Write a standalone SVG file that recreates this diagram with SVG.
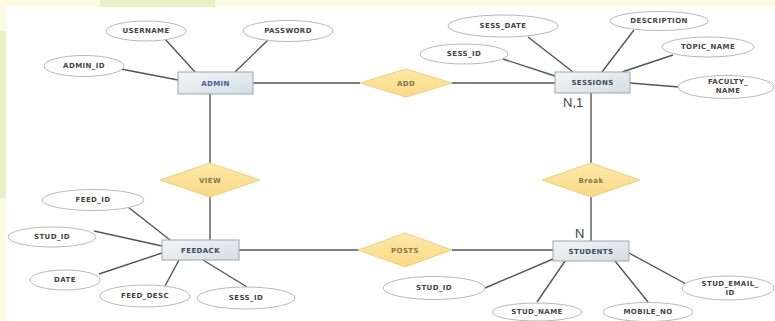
<svg xmlns="http://www.w3.org/2000/svg" width="775" height="321" viewBox="0 0 775 321">
<defs>
<linearGradient id="ent" x1="0" y1="0" x2="1" y2="1">
<stop offset="0" stop-color="#f3f6f7"/><stop offset="1" stop-color="#d5dde1"/>
</linearGradient>
<linearGradient id="rel" x1="0" y1="0" x2="0" y2="1">
<stop offset="0" stop-color="#fde9a8"/><stop offset="1" stop-color="#f9d885"/>
</linearGradient>
<style>
.ent{fill:url(#ent);stroke:#9aa8b0;stroke-width:1}
.rel{fill:url(#rel);stroke:#ecd080;stroke-width:1}
.att{fill:#ffffff;stroke:#b8b8b8;stroke-width:1}
.ln{stroke:#555;stroke-width:1.4;fill:none}
text{font-family:"DejaVu Sans","Liberation Sans",sans-serif;font-weight:bold;font-size:7px;text-anchor:middle;dominant-baseline:central;fill:#444;letter-spacing:0.4px}
.rt{fill:#8a7448}
.et{fill:#3c4a5c}
.card{font-family:"Liberation Sans",sans-serif;font-weight:normal;font-size:13px;fill:#444;text-anchor:start;dominant-baseline:alphabetic;letter-spacing:0}
</style>
</defs>
<rect x="0" y="0" width="775" height="321" fill="#fdfbe3"/>
<rect x="100" y="0" width="115" height="7" fill="#e9f0c6"/>
<rect x="0" y="31" width="6" height="167" fill="#e9f0c6"/>
<rect x="6" y="7" width="769" height="314" fill="#ffffff"/>

<g id="connectors">
<line class="ln" x1="165" y1="39" x2="195" y2="72"/>
<line class="ln" x1="268" y1="40" x2="235" y2="72"/>
<line class="ln" x1="121" y1="69" x2="178" y2="80"/>
<line class="ln" x1="253" y1="83" x2="360" y2="83"/>
<line class="ln" x1="210" y1="94" x2="210" y2="163"/>
<line class="ln" x1="210" y1="197" x2="210" y2="240"/>
<line class="ln" x1="239" y1="250" x2="358" y2="250"/>
<line class="ln" x1="452" y1="250" x2="553" y2="250"/>
<line class="ln" x1="591" y1="241" x2="591" y2="197"/>
<line class="ln" x1="591" y1="163" x2="591" y2="93"/>
<line class="ln" x1="452" y1="83" x2="555" y2="83"/>
<line class="ln" x1="503" y1="59" x2="555" y2="76"/>
<line class="ln" x1="528" y1="37" x2="573" y2="72"/>
<line class="ln" x1="634" y1="30" x2="602" y2="72"/>
<line class="ln" x1="673" y1="55" x2="622" y2="72"/>
<line class="ln" x1="630" y1="83" x2="679" y2="87"/>
<line class="ln" x1="128" y1="207" x2="170" y2="240"/>
<line class="ln" x1="94" y1="231" x2="162" y2="246"/>
<line class="ln" x1="99" y1="274" x2="162" y2="253"/>
<line class="ln" x1="165" y1="286" x2="179" y2="260"/>
<line class="ln" x1="247" y1="287" x2="203" y2="260"/>
<line class="ln" x1="485" y1="288" x2="553" y2="259"/>
<line class="ln" x1="537" y1="302" x2="565" y2="261"/>
<line class="ln" x1="648" y1="302" x2="615" y2="261"/>
<line class="ln" x1="688" y1="285" x2="629" y2="253"/>
</g>

<g id="admin"><rect class="ent" x="178" y="72" width="75" height="22"/><text x="215.5" y="83.5" style="fill:#4a5aa0">ADMIN</text></g>
<g id="sessions"><rect class="ent" x="555" y="72" width="75" height="21"/><text x="592.5" y="83" class="et">SESSIONS</text></g>
<g id="feedack"><rect class="ent" x="162" y="240" width="77" height="20"/><text x="200.5" y="250.5" class="et">FEEDACK</text></g>
<g id="students"><rect class="ent" x="553" y="241" width="76" height="20"/><text x="591" y="251.5" class="et">STUDENTS</text></g>

<g id="add"><polygon class="rel" points="360,83 406,69 452,83 406,97"/><text x="406" y="83.5" class="rt">ADD</text></g>
<g id="view"><polygon class="rel" points="160,180 210,163 260,180 210,197"/><text x="210" y="180.5" class="rt">VIEW</text></g>
<g id="break"><polygon class="rel" points="542,180 591,163 640,180 591,197"/><text x="591" y="180.5" class="rt">Break</text></g>
<g id="posts"><polygon class="rel" points="358,250 405,233 452,250 405,267"/><text x="405" y="250.5" class="rt">POSTS</text></g>

<g id="username"><ellipse class="att" cx="146" cy="31" rx="40" ry="10"/><text x="146" y="31">USERNAME</text></g>
<g id="password"><ellipse class="att" cx="288" cy="31" rx="45" ry="10.5"/><text x="288" y="31">PASSWORD</text></g>
<g id="admin_id"><ellipse class="att" cx="84" cy="66" rx="40" ry="10.5"/><text x="84" y="66">ADMIN_ID</text></g>

<g id="sess_date"><ellipse class="att" cx="503" cy="26" rx="55" ry="11"/><text x="503" y="26">SESS_DATE</text></g>
<g id="sess_id"><ellipse class="att" cx="464" cy="54" rx="44" ry="10"/><text x="464" y="54">SESS_ID</text></g>
<g id="description"><ellipse class="att" cx="659" cy="21" rx="49" ry="9.5"/><text x="659" y="20.5">DESCRIPTION</text></g>
<g id="topic_name"><ellipse class="att" cx="708" cy="47" rx="46" ry="10"/><text x="708" y="47">TOPIC_NAME</text></g>
<g id="faculty_name"><ellipse class="att" cx="726" cy="87" rx="48" ry="11.5"/><text x="728" y="82">FACULTY_</text><text x="728" y="91">NAME</text></g>

<g id="feed_id"><ellipse class="att" cx="93" cy="200" rx="51" ry="10.5"/><text x="93" y="199.5">FEED_ID</text></g>
<g id="stud_id_f"><ellipse class="att" cx="52" cy="237" rx="44" ry="10"/><text x="52" y="236.5">STUD_ID</text></g>
<g id="date"><ellipse class="att" cx="65" cy="280" rx="35" ry="10"/><text x="65" y="279.5">DATE</text></g>
<g id="feed_desc"><ellipse class="att" cx="145" cy="296" rx="45" ry="11"/><text x="145" y="296">FEED_DESC</text></g>
<g id="sess_id_f"><ellipse class="att" cx="246" cy="298" rx="49" ry="11"/><text x="246" y="298">SESS_ID</text></g>

<g id="stud_id_s"><ellipse class="att" cx="434" cy="288" rx="51" ry="11.5"/><text x="434" y="288">STUD_ID</text></g>
<g id="stud_name"><ellipse class="att" cx="537" cy="312" rx="45" ry="9"/><text x="537" y="312">STUD_NAME</text></g>
<g id="mobile_no"><ellipse class="att" cx="648" cy="312" rx="45" ry="9.5"/><text x="648" y="312">MOBILE_NO</text></g>
<g id="stud_email_id"><ellipse class="att" cx="728" cy="288" rx="46" ry="12"/><text x="730" y="284">STUD_EMAIL_</text><text x="730" y="293">ID</text></g>

<text class="card" x="563" y="107">N,1</text>
<text class="card" x="575" y="238">N</text>
</svg>
